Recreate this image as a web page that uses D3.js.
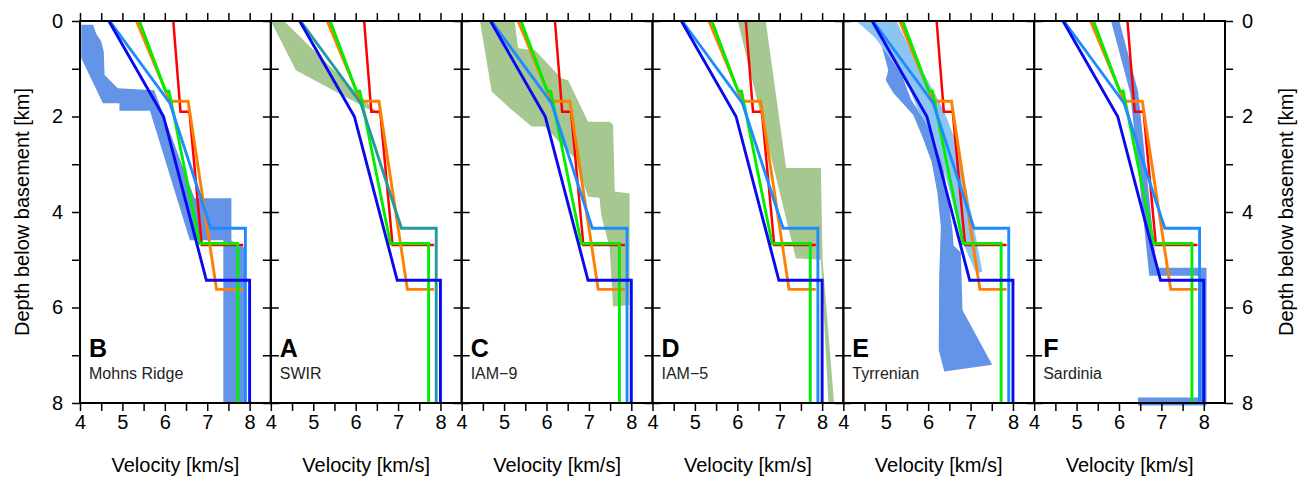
<!DOCTYPE html>
<html><head><meta charset="utf-8">
<script src="https://cdn.jsdelivr.net/npm/d3@7"></script>
<style>body{margin:0;background:#fff}svg text{font-family:"Liberation Sans",Arial,Helvetica,sans-serif}</style>
</head><body><svg id="c" width="1308" height="480"></svg>
<script>
// ---------- labels ----------
const panelLetters = ["B","A","C","D","E","F"];
const panelNames = ["Mohns Ridge","SWIR","IAM\u22129","IAM\u22125","Tyrrenian","Sardinia"];
const velocityTicks = [4,5,6,7,8];
const velocityMinorTicks = [4.5,5.5,6.5,7.5];
const depthTicks = [0,2,4,6,8];
const depthMinorTicks = [1,3,5,7];

// ---------- reference velocity models (velocity km/s, depth km) ----------
const redV = [6.2,6.37,6.58,6.87,7.85];
const redD = [0,1.9,1.9,4.69,4.69];
const orangeV = [5.33,6.12,6.55,7.22,7.85];
const orangeD = [0,1.68,1.68,5.62,5.62];
const greenV = [5.4,6.02,6.1,6.82,7.72,7.72];
const greenD = [0,1.47,1.47,4.66,4.66,8];
const skyV = [4.7,6.12,7.08,7.9,7.9];
const skyD = [0,1.72,4.34,4.34,8];
const blueV = [4.68,5.97,6.98,8.0,8.0];
const blueD = [0,2.0,5.43,5.43,8];

// ---------- observed ranges ----------
const mohnsV = [4.03,4.31,4.38,4.50,4.56,4.58,4.89,5.75,6.7,7.57,7.57,7.88,7.92,7.38,7.38,6.59,5.65,4.93,4.93,4.54,4.03];
const mohnsD = [0.08,0.08,0.26,0.43,0.64,1.13,1.41,1.45,3.71,3.71,4.6,4.75,8.0,8.0,4.59,4.59,1.88,1.88,1.72,1.72,0.78];
const swirV = [4.0,4.31,6.12,6.58,4.59];
const swirD = [0,0,1.58,1.98,1.03];
const iam9V = [4.43,5.25,5.33,5.73,6.35,6.51,6.98,7.49,7.57,7.61,7.96,7.96,7.57,7.49,7.29,7.25,6.98,6.67,5.96,5.65,5.18,4.71,4.59];
const iam9D = [0,0,0.57,0.61,1.20,1.24,2.11,2.11,2.18,3.57,3.61,5.95,5.98,4.76,4.06,3.70,3.68,2.88,2.21,2.21,1.86,1.48,0.85];
const iam5V = [6.01,6.67,7.15,7.97,8.01,8.28,8.15,7.97,7.38];
const iam5D = [0,0,3.08,3.08,5.0,7.99,7.99,5.0,4.97];
const tyrDarkV = [4.9,5.2,5.45,5.6,6.0,6.35,6.57,6.6,6.77,6.81,7.51,6.38,6.25,6.26,6.30,6.22,6.08,5.88,5.65,5.18,5.0,5.06,4.94];
const tyrDarkD = [0.5,0.7,1.3,1.65,2.2,3.0,4.35,4.7,4.85,6.05,7.2,7.34,6.89,5.35,4.31,3.61,2.95,2.46,1.97,1.51,1.24,1.03,0.64];
const tyrLightV = [4.31,5.25,5.57,5.96,6.35,6.6,6.9,7.1,7.28,7.13,6.8,6.55,6.3,6.05,5.75,5.6,5.35,5.0,4.75];
const tyrLightD = [0,0,0.57,1.2,1.83,2.4,3.5,4.4,5.25,5.28,4.6,3.7,2.9,2.3,1.85,1.5,1.1,0.65,0.35];
const sardiniaV = [5.91,6.36,6.8,7.97,7.97,6.45];
const sardiniaD = [0,1.5,5.25,5.25,7.97,7.97];

// ---------- layout ----------
const svg = d3.select("#c");
const mLeft = 80, mRight = 1225, mTop = 21, mBottom = 403;
const nP = 6, pw = (mRight-mLeft)/nP;
const x = d3.scaleLinear().domain([4,8.5]).range([0,pw]);
const y = d3.scaleLinear().domain([0,8]).range([0,mBottom-mTop]);
const line = d3.line().x(p=>x(p[0])).y(p=>y(p[1]));
const closed = d3.line().x(p=>x(p[0])).y(p=>y(p[1])).curve(d3.curveLinearClosed);
const zip = (a,b)=>a.map((v,i)=>[v,b[i]]);

const cCorn = "#6394e8", cLight = "#8cc5f1", cGreen = "#a6c790";
const models = [
  {v:redV,d:redD,c:"#ff0000",w:2.5},
  {v:orangeV,d:orangeD,c:"#ff7f00",w:2.9},
  {v:greenV,d:greenD,c:"#00ee00",w:2.9},
  {v:skyV,d:skyD,c:"#1e8cff",w:2.9},
  {v:blueV,d:blueD,c:"#0a0aee",w:2.9}
];
const shades = [
  [{v:mohnsV,d:mohnsD,c:cCorn}],
  [{v:swirV,d:swirD,c:cGreen}],
  [{v:iam9V,d:iam9D,c:cGreen}],
  [{v:iam5V,d:iam5D,c:cGreen}],
  [{v:tyrDarkV,d:tyrDarkD,c:cCorn},{v:tyrLightV,d:tyrLightD,c:cLight}],
  []
];
const font = "Liberation Sans, Arial, sans-serif";

for (let i=0;i<nP;i++){
  const g = svg.append("g").attr("transform",`translate(${mLeft+i*pw},${mTop})`);
  shades[i].forEach(s=>{
    g.append("path").attr("d",closed(zip(s.v,s.d))).attr("fill",s.c).attr("stroke","none");
  });
  if (i===5){
    g.append("path").attr("d",line(zip(sardiniaV,sardiniaD))).attr("fill","none")
      .attr("stroke",cCorn).attr("stroke-width",8).attr("stroke-linejoin","miter");
  }
  models.forEach((m,k)=>{
    const col = (i===1 && k===3) ? "#25999b" : m.c;
    g.append("path").attr("d",line(zip(m.v,m.d))).attr("fill","none")
      .attr("stroke",col).attr("stroke-width",m.w).attr("stroke-linejoin","miter");
  });
  const tick = (axis, vals, size, tx, ty) => {
    const a = g.append("g").attr("transform",`translate(${tx},${ty})`)
      .call(axis.tickValues(vals).tickSize(size).tickFormat(""));
    a.select(".domain").remove();
    a.selectAll("line").attr("stroke","#000").attr("stroke-width",1.5);
    return a;
  };
  tick(d3.axisTop(x), velocityTicks.concat(velocityMinorTicks), 8, 0, 0);
  tick(d3.axisBottom(x), velocityTicks.concat(velocityMinorTicks), 8, 0, y(8));
  tick(d3.axisLeft(y), depthTicks.concat(depthMinorTicks), 8, 0, 0);
  tick(d3.axisRight(y), depthTicks.concat(depthMinorTicks), 8, pw, 0);
  const xl = g.append("g").attr("transform",`translate(0,${y(8)})`)
    .call(d3.axisBottom(x).tickValues(velocityTicks).tickSize(0).tickPadding(12).tickFormat(d3.format("d")));
  xl.select(".domain").remove();
  xl.selectAll("text").attr("font-size",20).attr("fill","#000").attr("font-family",font);
  if (i===0){
    const yl = g.append("g").call(d3.axisLeft(y).tickValues(depthTicks).tickSize(0).tickPadding(17).tickFormat(d3.format("d")));
    yl.select(".domain").remove();
    yl.selectAll("text").attr("font-size",20).attr("fill","#000").attr("font-family",font);
  }
  if (i===nP-1){
    const yr = g.append("g").attr("transform",`translate(${pw},0)`)
      .call(d3.axisRight(y).tickValues(depthTicks).tickSize(0).tickPadding(17).tickFormat(d3.format("d")));
    yr.select(".domain").remove();
    yr.selectAll("text").attr("font-size",20).attr("fill","#000").attr("font-family",font);
  }
  g.append("rect").attr("x",0).attr("y",0).attr("width",pw).attr("height",y(8))
    .attr("fill","none").attr("stroke","#000").attr("stroke-width",2);
  g.append("text").attr("x",9).attr("y",336).attr("font-size",25).attr("font-weight","bold").text(panelLetters[i]);
  g.append("text").attr("x",9).attr("y",358).attr("font-size",16).attr("fill","#222").text(panelNames[i]);
  g.append("text").attr("x",pw/2).attr("y",451).attr("text-anchor","middle").attr("font-size",20).text("Velocity [km/s]");
}
svg.append("text").attr("transform",`translate(29,${mTop+y(4)}) rotate(-90)`)
  .attr("text-anchor","middle").attr("font-size",20).text("Depth below basement [km]");
svg.append("text").attr("transform",`translate(1293,${mTop+y(4)}) rotate(-90)`)
  .attr("text-anchor","middle").attr("font-size",20).text("Depth below basement [km]");
</script></body></html>
